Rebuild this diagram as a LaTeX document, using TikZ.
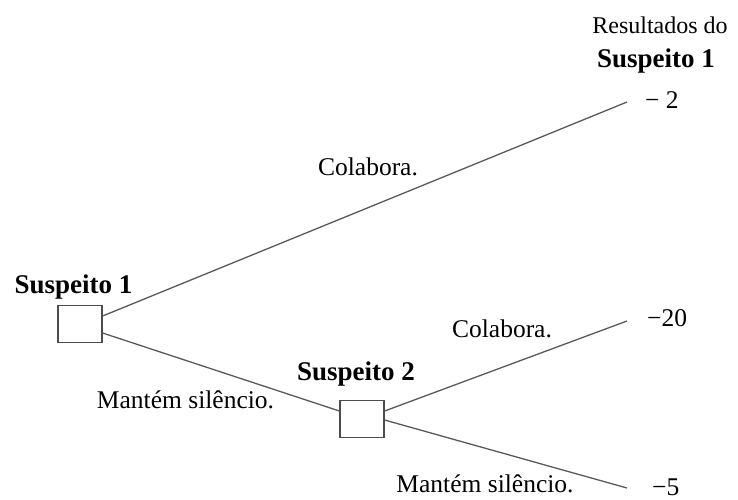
\documentclass[tikz,border=0pt]{standalone}
\usepackage{fontspec}
\setmainfont{Liberation Serif}
\begin{document}
\begin{tikzpicture}[x=1pt,y=-1pt,
  lbl/.style={font=\fontsize{25.5}{29}\selectfont, inner sep=0pt, anchor=base},
  player/.style={font=\fontsize{27}{31}\selectfont\bfseries, inner sep=0pt, anchor=base},
  decision/.style={draw=black!70, line width=1.2pt, minimum width=44pt, minimum height=37pt, inner sep=0pt},
  branch/.style={draw=black!65, line width=1.3pt}]
\useasboundingbox (0,0) rectangle (738,499);
% decision nodes
\node[decision] (d1) at (80,324) {};
\node[decision] (d2) at (362,419) {};
% branch ends
\coordinate (e1) at (627,102);
\coordinate (e2) at (627,321);
\coordinate (e3) at (627,488);
% branches
\draw[branch] ([yshift=8pt]d1.east) -- (e1);
\draw[branch] ([yshift=-9pt]d1.east) -- ([yshift=8pt]d2.west);
\draw[branch] ([yshift=8pt]d2.east) -- (e2);
\draw[branch] ([yshift=-1pt]d2.east) -- (e3);
% players
\node[player] (p1) at (73.5,293) {Suspeito 1};
\node[player] (p2) at (356,380) {Suspeito 2};
% action labels
\node[lbl] (a1) at (368,175) {Colabora.};
\node[lbl] (a2) at (185.5,408) {Mantém silêncio.};
\node[lbl] (a3) at (502,337) {Colabora.};
\node[lbl] (a4) at (485,492) {Mantém silêncio.};
% payoffs
\node[lbl, font=\fontsize{24}{28}\selectfont] (h1) at (660,33) {Resultados do};
\node[player] (h2) at (656,67) {Suspeito 1};
\node[lbl, anchor=base west] (v1) at (645,108) {− 2};
\node[lbl, anchor=base west] (v2) at (647,326) {−20};
\node[lbl, anchor=base west] (v3) at (652,495) {−5};
\end{tikzpicture}
\end{document}
